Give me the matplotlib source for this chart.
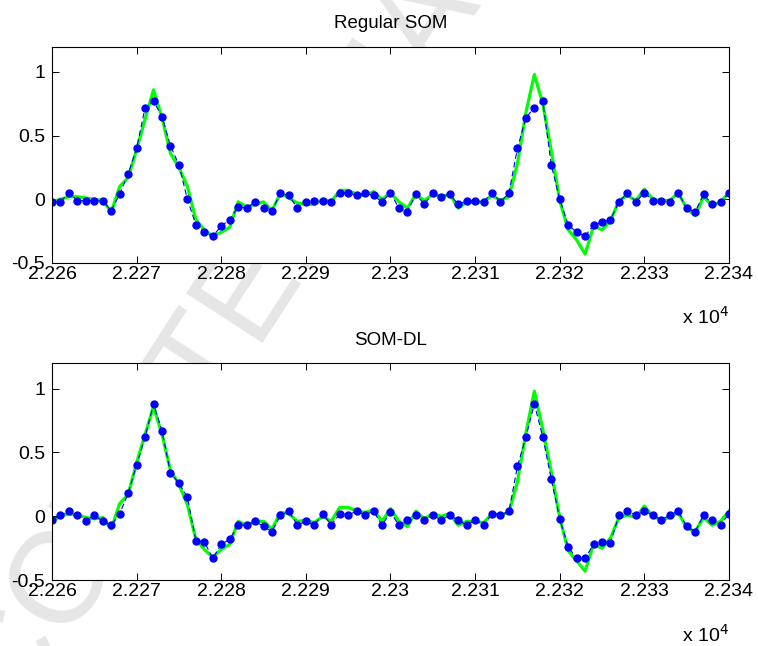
import numpy as np
import matplotlib
matplotlib.use("Agg")
import matplotlib.pyplot as plt
from matplotlib.ticker import FuncFormatter

plt.rcParams["font.family"] = ["Liberation Sans", "DejaVu Sans"]

# sample positions (every sample between 22260 and 22340)
samples = np.arange(22260, 22341)

# top panel: regular SOM
som_original = [
    -0.02, 0.00, 0.02, 0.02, 0.01, 0.00, -0.01, -0.10, 0.10, 0.17,
    0.39, 0.63, 0.86, 0.64, 0.36, 0.25, 0.10, -0.16, -0.24, -0.29,
    -0.26, -0.22, -0.02, -0.06, -0.04, -0.02, -0.09, 0.05, 0.01, -0.03,
    -0.04, -0.04, 0.00, -0.02, 0.07, 0.07, 0.04, 0.03, 0.06, 0.00,
    0.05, -0.02, -0.07, 0.04, -0.01, 0.04, 0.02, 0.04, -0.07, -0.02,
    -0.03, -0.02, 0.03, -0.01, 0.02, 0.28, 0.68, 0.98, 0.75, 0.38,
    -0.01, -0.24, -0.32, -0.43, -0.21, -0.24, -0.17, -0.01, 0.03, -0.01,
    0.08, 0.00, -0.01, -0.01, 0.05, -0.07, -0.13, 0.02, -0.05, -0.02,
    0.05,
]
som_recon = [
    -0.02, -0.02, 0.05, -0.01, -0.01, -0.01, -0.01, -0.09, 0.04, 0.20,
    0.40, 0.72, 0.77, 0.65, 0.42, 0.27, 0.00, -0.20, -0.26, -0.29,
    -0.21, -0.16, -0.06, -0.07, -0.02, -0.07, -0.09, 0.05, 0.03, -0.07,
    -0.02, -0.01, -0.01, -0.02, 0.05, 0.05, 0.03, 0.05, 0.03, -0.02,
    0.05, -0.07, -0.10, 0.04, -0.04, 0.05, 0.02, 0.04, -0.04, -0.01,
    -0.01, -0.02, 0.05, -0.02, 0.05, 0.40, 0.64, 0.72, 0.77, 0.27,
    0.00, -0.20, -0.26, -0.29, -0.20, -0.18, -0.16, -0.02, 0.05, -0.02,
    0.05, -0.01, -0.01, -0.02, 0.05, -0.07, -0.10, 0.04, -0.04, -0.02,
    0.05,
]

# bottom panel: SOM-DL
dl_original = [
    -0.04, 0.00, 0.02, 0.01, -0.01, -0.02, -0.01, -0.10, 0.10, 0.17,
    0.42, 0.64, 0.86, 0.64, 0.36, 0.25, 0.09, -0.18, -0.26, -0.32,
    -0.26, -0.22, -0.04, -0.07, -0.04, -0.04, -0.10, 0.03, 0.02, -0.04,
    -0.03, -0.05, 0.00, -0.04, 0.07, 0.07, 0.04, 0.03, 0.05, -0.04,
    0.06, -0.04, -0.08, 0.04, -0.02, 0.02, 0.00, 0.02, -0.07, -0.04,
    -0.04, -0.05, 0.02, 0.01, 0.03, 0.27, 0.65, 0.98, 0.68, 0.35,
    -0.01, -0.27, -0.35, -0.43, -0.22, -0.25, -0.17, -0.01, 0.01, -0.01,
    0.08, 0.00, -0.03, -0.01, 0.03, -0.09, -0.12, -0.01, -0.07, -0.04,
    0.04,
]
dl_recon = [
    -0.03, 0.01, 0.04, 0.01, -0.04, 0.01, -0.04, -0.07, 0.02, 0.18,
    0.40, 0.62, 0.88, 0.67, 0.34, 0.26, 0.15, -0.19, -0.20, -0.33,
    -0.22, -0.18, -0.07, -0.07, -0.04, -0.08, -0.12, 0.01, 0.04, -0.07,
    -0.04, -0.07, 0.02, -0.07, 0.02, 0.01, 0.04, 0.01, 0.04, -0.07,
    0.03, -0.07, -0.03, 0.01, -0.03, 0.01, -0.03, 0.01, -0.03, -0.07,
    -0.03, -0.07, 0.02, 0.01, 0.04, 0.39, 0.62, 0.88, 0.62, 0.29,
    -0.02, -0.24, -0.33, -0.33, -0.22, -0.20, -0.21, 0.01, 0.04, 0.01,
    0.04, 0.01, -0.03, 0.01, 0.04, -0.08, -0.12, 0.01, -0.03, -0.07,
    0.02,
]

titles = ["Regular SOM", "SOM-DL"]
x_ticks = np.arange(22260, 22341, 10)
y_ticks = [-0.5, 0, 0.5, 1]

fig = plt.figure(figsize=(7.58, 6.46), dpi=100)

# faint manuscript watermark, sits behind the white axes
fig.text(0.50, 0.842, "ACCEPTED MANUSCRIPT", fontsize=94, color="#e6e6e6",
         rotation=57, ha="center", va="center", rotation_mode="anchor",
         zorder=0)

boxes = [[0.0686, 0.593, 0.8931, 0.335], [0.0686, 0.102, 0.8931, 0.336]]
series = [(som_original, som_recon), (dl_original, dl_recon)]

for box, title, (orig, recon) in zip(boxes, titles, series):
    ax = fig.add_axes(box)
    ax.set_facecolor("white")
    ax.set_zorder(1)
    ax.plot(samples, orig, color="#00ff00", linewidth=2.3)
    ax.plot(samples, recon, color="#0000ff", linestyle="--", linewidth=0.8,
            marker="o", markersize=5, dashes=(5, 3))
    ax.set_xlim(22260, 22340)
    ax.set_ylim(-0.5, 1.2)
    ax.set_xticks(x_ticks)
    ax.set_yticks(y_ticks)
    ax.xaxis.set_major_formatter(FuncFormatter(lambda v, p: "%g" % (v / 1e4)))
    ax.yaxis.set_major_formatter(FuncFormatter(lambda v, p: "%g" % v))
    ax.tick_params(direction="in", length=5, width=0.7, top=True, right=True,
                   labelsize=14)
    ax.tick_params(axis="x", pad=2)
    ax.tick_params(axis="y", pad=5)
    for s in ax.spines.values():
        s.set_linewidth(0.8)
    ax.set_title(title, fontsize=13.5, pad=13)
    ax.text(1.0, -0.2, r"x 10$^{4}$", transform=ax.transAxes, ha="right",
            va="top", fontsize=14)

fig.savefig("out.png", dpi=100)
